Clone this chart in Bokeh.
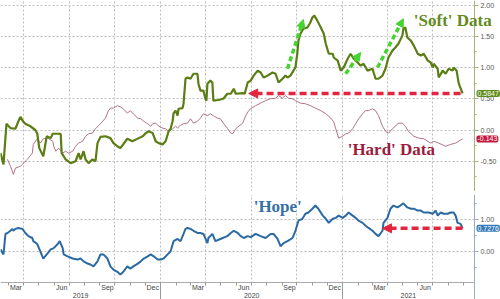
import pandas as pd
from bokeh.plotting import figure
from bokeh.models import (Range1d, LinearAxis, FixedTicker, SingleIntervalTicker,
                          NumeralTickFormatter, Grid, Label, Arrow, NormalHead,
                          BoxAnnotation)
from bokeh.layouts import column
from bokeh.embed import file_html
from bokeh.resources import INLINE
from bokeh.core.validation import silence
from bokeh.core.validation.warnings import MISSING_RENDERERS

silence(MISSING_RENDERERS, True)

# ---------------- data ----------------
soft_dates = ["2019-02-13","2019-02-19","2019-02-25","2019-03-05","2019-03-15","2019-03-21","2019-03-25","2019-03-31","2019-04-04","2019-04-14",
              "2019-04-24","2019-04-28","2019-05-02","2019-05-10","2019-05-17","2019-05-25","2019-05-29","2019-06-14","2019-06-16","2019-06-24",
              "2019-07-04","2019-07-14","2019-07-20","2019-07-24","2019-07-30","2019-08-03","2019-08-09","2019-08-17","2019-08-23","2019-08-27",
              "2019-09-02","2019-09-12","2019-09-22","2019-09-28","2019-10-06","2019-10-12","2019-10-26","2019-11-05","2019-11-18","2019-11-26",
              "2019-12-02","2019-12-08","2019-12-16","2019-12-22","2019-12-28","2020-01-05","2020-01-11","2020-01-17","2020-01-21","2020-01-25",
              "2020-01-27","2020-01-31","2020-02-04","2020-02-06","2020-02-14","2020-02-16","2020-02-20","2020-02-24","2020-03-01","2020-03-07",
              "2020-03-15","2020-03-17","2020-03-21","2020-03-27","2020-03-31","2020-04-02","2020-04-04","2020-04-10","2020-04-14","2020-04-16",
              "2020-04-26","2020-05-06","2020-05-14","2020-05-21","2020-05-27","2020-05-31","2020-06-14","2020-06-18","2020-06-24","2020-06-30",
              "2020-07-06","2020-07-14","2020-07-20","2020-07-26","2020-08-03","2020-08-13","2020-08-19","2020-08-25","2020-09-02","2020-09-08",
              "2020-09-12","2020-09-18","2020-09-24","2020-09-28","2020-10-02","2020-10-04","2020-10-08","2020-10-14","2020-10-22","2020-10-28",
              "2020-11-01","2020-11-05","2020-11-11","2020-11-18","2020-11-24","2020-11-28","2020-12-04","2020-12-12","2020-12-14","2020-12-22",
              "2020-12-28","2021-01-03","2021-01-11","2021-01-17","2021-01-23","2021-01-31","2021-02-06","2021-02-12","2021-02-20","2021-03-02",
              "2021-03-08","2021-03-14","2021-03-22","2021-03-28","2021-04-03","2021-04-11","2021-04-17","2021-04-23","2021-05-01","2021-05-03",
              "2021-05-07","2021-05-11","2021-05-18","2021-05-24","2021-06-01","2021-06-07","2021-06-13","2021-06-21","2021-06-27","2021-07-01",
              "2021-07-03","2021-07-11","2021-07-13","2021-07-21","2021-07-27","2021-08-02","2021-08-10","2021-08-12","2021-08-18","2021-08-22",
              "2021-08-24","2021-08-30"]
soft_values = [-0.37,-0.55,0.10,0.03,0.02,0.14,0.21,0.13,0.10,0.06,
               0.00,-0.06,-0.29,-0.42,-0.10,-0.13,-0.06,-0.06,-0.37,-0.47,
               -0.53,-0.50,-0.37,-0.47,-0.34,-0.47,-0.53,-0.47,-0.50,-0.21,
               -0.11,-0.10,-0.13,-0.21,-0.26,-0.29,-0.14,-0.18,-0.13,-0.10,
               -0.05,-0.02,-0.05,-0.18,-0.21,-0.23,-0.18,-0.02,0.02,0.14,
               0.27,0.31,0.23,0.34,0.35,0.42,0.82,0.84,0.82,0.90,
               0.90,0.74,0.63,0.63,0.50,0.47,0.74,0.79,0.76,0.47,
               0.48,0.50,0.58,0.58,0.66,0.58,0.59,0.58,0.76,0.79,
               0.87,0.95,0.92,0.84,0.87,0.92,0.90,0.76,0.82,0.87,
               0.84,0.87,0.95,1.00,1.24,1.43,1.54,1.62,1.64,1.72,
               1.80,1.83,1.75,1.64,1.54,1.38,1.22,1.22,1.16,1.11,
               0.95,1.00,1.14,1.22,1.14,1.08,1.03,1.06,0.95,0.98,
               0.82,0.82,0.87,0.98,1.16,1.27,1.32,1.38,1.51,1.62,
               1.64,1.48,1.43,1.35,1.22,1.19,1.22,1.11,1.08,1.00,
               1.06,0.98,0.84,0.95,0.90,0.98,0.95,1.00,0.95,0.76,
               0.71,0.5847]

hard_dates = ["2019-02-27","2019-03-05","2019-03-11","2019-03-15","2019-03-25","2019-04-08","2019-04-18","2019-04-20","2019-04-28","2019-05-04",
              "2019-05-10","2019-05-19","2019-05-29","2019-05-31","2019-06-04","2019-06-10","2019-06-18","2019-06-24","2019-06-30","2019-07-08",
              "2019-07-14","2019-07-20","2019-07-28","2019-08-03","2019-08-09","2019-08-17","2019-08-23","2019-09-02","2019-09-12","2019-09-18",
              "2019-09-22","2019-09-28","2019-10-06","2019-10-12","2019-10-18","2019-10-26","2019-11-01","2019-11-07","2019-11-16","2019-11-22",
              "2019-11-28","2019-12-06","2019-12-12","2019-12-16","2019-12-22","2019-12-28","2020-01-05","2020-01-11","2020-01-17","2020-01-25",
              "2020-01-31","2020-02-04","2020-02-10","2020-02-16","2020-02-24","2020-03-01","2020-03-07","2020-03-15","2020-03-21","2020-03-27",
              "2020-04-04","2020-04-10","2020-04-16","2020-04-24","2020-04-30","2020-05-06","2020-05-14","2020-05-21","2020-05-25","2020-05-31",
              "2020-06-06","2020-06-14","2020-06-20","2020-06-26","2020-06-30","2020-07-10","2020-07-20","2020-07-30","2020-08-09","2020-08-19",
              "2020-08-25","2020-09-02","2020-09-08","2020-09-14","2020-09-22","2020-09-28","2020-10-08","2020-10-18","2020-10-28","2020-11-07",
              "2020-11-18","2020-11-28","2020-12-08","2020-12-14","2020-12-18","2020-12-24","2021-01-01","2021-01-07","2021-01-13","2021-01-21",
              "2021-01-27","2021-02-02","2021-02-10","2021-02-16","2021-02-22","2021-03-02","2021-03-08","2021-03-14","2021-03-22","2021-03-28",
              "2021-04-03","2021-04-11","2021-04-17","2021-04-23","2021-05-01","2021-05-07","2021-05-13","2021-05-24","2021-06-03","2021-06-13",
              "2021-06-27","2021-07-03","2021-07-13","2021-07-27","2021-08-06","2021-08-16","2021-08-26","2021-08-30"]
hard_values = [-0.47,-0.58,-0.71,-0.61,-0.58,-0.47,-0.37,-0.23,-0.14,-0.21,
               -0.14,-0.13,-0.18,-0.26,-0.34,-0.29,-0.37,-0.34,-0.37,-0.34,
               -0.26,-0.21,-0.18,-0.10,-0.06,-0.05,0.02,0.10,0.19,0.31,
               0.35,0.35,0.39,0.37,0.34,0.27,0.31,0.26,0.19,0.18,
               0.14,0.10,0.06,0.10,0.11,0.06,0.03,0.02,-0.02,0.02,
               0.06,0.03,0.08,0.10,0.11,0.18,0.11,0.14,0.19,0.26,
               0.23,0.26,0.23,0.19,0.18,0.11,0.03,-0.05,-0.06,0.02,
               0.06,0.11,0.23,0.31,0.34,0.39,0.43,0.47,0.50,0.51,
               0.55,0.51,0.55,0.51,0.50,0.47,0.43,0.42,0.39,0.35,
               0.31,0.26,0.19,0.13,0.02,-0.13,-0.10,-0.06,-0.05,0.02,
               0.10,0.18,0.26,0.31,0.31,0.34,0.31,0.23,0.06,-0.02,
               -0.05,0.02,0.06,0.11,0.11,0.06,-0.02,-0.10,-0.13,-0.14,
               -0.21,-0.18,-0.21,-0.26,-0.23,-0.21,-0.16,-0.143]

hope_dates = ["2019-02-13","2019-02-19","2019-02-23","2019-02-27","2019-03-05","2019-03-09","2019-03-11","2019-03-15","2019-03-21","2019-03-29",
              "2019-04-04","2019-04-10","2019-04-18","2019-04-20","2019-04-28","2019-05-04","2019-05-10","2019-05-19","2019-05-25","2019-05-31",
              "2019-06-08","2019-06-12","2019-06-18","2019-06-20","2019-06-28","2019-07-08","2019-07-18","2019-07-24","2019-07-30","2019-08-07",
              "2019-08-13","2019-08-19","2019-08-27","2019-09-02","2019-09-08","2019-09-16","2019-09-22","2019-09-28","2019-10-06","2019-10-12",
              "2019-10-18","2019-10-26","2019-11-01","2019-11-07","2019-11-16","2019-11-22","2019-11-28","2019-12-06","2019-12-12","2019-12-18",
              "2019-12-26","2020-01-01","2020-01-07","2020-01-15","2020-01-21","2020-01-27","2020-02-04","2020-02-10","2020-02-16","2020-02-20",
              "2020-02-24","2020-03-01","2020-03-07","2020-03-15","2020-03-21","2020-03-27","2020-04-04","2020-04-06","2020-04-14","2020-04-20",
              "2020-04-30","2020-05-14","2020-05-21","2020-05-27","2020-06-04","2020-06-10","2020-06-16","2020-06-24","2020-06-30","2020-07-10",
              "2020-07-20","2020-07-30","2020-08-09","2020-08-15","2020-08-23","2020-08-29","2020-09-04","2020-09-12","2020-09-22","2020-09-28",
              "2020-10-04","2020-10-12","2020-10-18","2020-10-24","2020-11-01","2020-11-07","2020-11-13","2020-11-22","2020-11-28","2020-12-04",
              "2020-12-12","2020-12-18","2020-12-24","2021-01-01","2021-01-07","2021-01-13","2021-01-21","2021-01-27","2021-02-02","2021-02-10",
              "2021-02-16","2021-02-22","2021-03-02","2021-03-08","2021-03-14","2021-03-22","2021-03-24","2021-04-01","2021-04-07","2021-04-13",
              "2021-04-21","2021-04-27","2021-05-03","2021-05-11","2021-05-18","2021-05-24","2021-06-01","2021-06-07","2021-06-13","2021-06-23",
              "2021-07-01","2021-07-07","2021-07-11","2021-07-17","2021-07-23","2021-07-31","2021-08-06","2021-08-12","2021-08-16","2021-08-20",
              "2021-08-26","2021-08-30"]
hope_values = [0.06,-0.10,0.55,0.58,0.65,0.71,0.65,0.71,0.74,0.71,
               0.58,0.48,0.42,0.32,0.23,0.00,-0.23,-0.06,0.06,0.10,
               0.23,0.32,0.10,-0.10,-0.16,-0.23,-0.26,-0.23,-0.32,-0.39,
               -0.42,-0.48,-0.32,-0.10,-0.10,-0.23,-0.48,-0.58,-0.65,-0.74,
               -0.65,-0.48,-0.55,-0.48,-0.39,-0.32,-0.23,-0.16,-0.10,-0.16,
               -0.26,-0.26,-0.23,-0.10,0.00,0.32,0.39,0.32,0.55,0.71,
               0.74,0.71,0.65,0.58,0.58,0.55,0.26,0.42,0.55,0.32,
               0.39,0.48,0.58,0.65,0.58,0.48,0.42,0.48,0.45,0.55,
               0.48,0.42,0.55,0.55,0.39,0.16,0.26,0.32,0.42,0.65,
               0.97,1.03,1.19,1.23,1.35,1.45,1.35,1.13,1.03,0.90,
               1.03,1.06,1.13,1.06,1.13,1.23,1.13,1.06,0.97,0.90,
               0.81,0.74,0.65,0.55,0.48,0.65,0.90,1.06,1.35,1.45,
               1.39,1.45,1.52,1.39,1.35,1.35,1.29,1.29,1.23,1.23,
               1.19,1.29,1.13,1.23,1.19,1.19,1.23,1.23,1.13,0.90,
               0.87,0.7276]

quarter_dates = ["2019-04-01","2019-07-01","2019-10-01","2020-01-01","2020-04-01",
                 "2020-07-01","2020-10-01","2021-01-01","2021-04-01","2021-07-01"]
month_label_dates = ["2019-03-16","2019-06-16","2019-09-16","2019-12-16","2020-03-16",
                     "2020-06-16","2020-09-16","2020-12-16","2021-03-16","2021-06-16"]
month_labels = ["Mar","Jun","Sep","Dec","Mar","Jun","Sep","Dec","Mar","Jun"]
year_label_dates = ["2019-07-24","2020-07-02","2021-05-13"]
year_labels = ["2019","2020","2021"]
year_starts = ["2020-01-01","2021-01-01"]

X_START, X_END = "2019-02-13", "2021-09-23"

# ---------------- styling ----------------
SOFT_LINE, SOFT_TEXT, SOFT_TAG = "#5a7d14", "#648a1d", "#5e8c1a"
HARD_LINE, HARD_TEXT, HARD_TAG = "#b07488", "#9b1c3d", "#c3183c"
HOPE_LINE, HOPE_TEXT, HOPE_TAG = "#2b69a3", "#3670a8", "#3579b8"
RED, GREEN = "#e3253f", "#45d42f"
TICK_FONT = "Liberation Sans"
SERIF = "Liberation Serif"
GRID = dict(grid_line_color="#bdbdbd", grid_line_dash="2 2", grid_line_width=1)
PLOT_W, AXIS_W = 474, 26          # plot area / value-axis strip (px)
H1, H2, H_DATE = 191, 88, 17      # top panel, bottom panel, date strip (px)


def ms(s):
    return pd.Timestamp(s).value / 1e6


x0, x1 = ms(X_START), ms(X_END)
# frame spans whole width; the value axis sits at X_END and uses the last 26 px
x_range = Range1d(x0, x1 + (x1 - x0) * AXIS_W / PLOT_W)
month_starts = [d.strftime("%Y-%m-%d") for d in pd.date_range("2019-03-01", "2021-09-01", freq="MS")]


def base_fig(frame_h, y_range):
    return figure(frame_width=PLOT_W + AXIS_W, frame_height=frame_h, x_range=x_range,
                  y_range=y_range, x_axis_type=None, y_axis_type=None,
                  toolbar_location=None, output_backend="svg", min_border=0,
                  outline_line_color=None, background_fill_color="white",
                  border_fill_color="white")


def right_axis(p, interval, color, lo, hi):
    ax = LinearAxis(ticker=SingleIntervalTicker(interval=interval, num_minor_ticks=2),
                    formatter=NumeralTickFormatter(format="0.00"), fixed_location=x1,
                    bounds=(lo, hi),
                    axis_line_color=color, major_tick_line_color=color,
                    minor_tick_line_color=color, major_tick_out=4, major_tick_in=0,
                    minor_tick_out=2, minor_tick_in=0, major_label_standoff=2,
                    major_label_text_font_size="7px", major_label_text_color="#555555",
                    major_label_text_font=TICK_FONT)
    p.add_layout(Grid(dimension=1, ticker=ax.ticker, bounds=(lo, hi), **GRID))
    p.add_layout(Grid(dimension=0, ticker=FixedTicker(ticks=[ms(d) for d in quarter_dates]), **GRID))
    # keep the axis strip right of the plot area clean of grid lines
    p.add_layout(BoxAnnotation(left=x1, fill_color="white", fill_alpha=1,
                               line_color=None, level="glyph"))
    p.add_layout(ax, "right")


def tag(p, y, text, color):
    p.add_layout(Label(x=x1, x_offset=2, y=y, text=text, text_font=TICK_FONT,
                       text_font_size="7px", text_color="white", text_baseline="middle",
                       text_align="left", background_fill_color=color, padding=1,
                       border_radius=2, level="overlay"))


# ---------------- top panel ----------------
Y1_LO, Y1_HI = -0.984, 2.072
p1 = base_fig(H1, Range1d(Y1_LO, Y1_HI))
right_axis(p1, 0.5, "#a9b27a", Y1_LO, Y1_HI)
p1.line(pd.to_datetime(hard_dates), hard_values, line_color=HARD_LINE, line_width=1)
p1.line(pd.to_datetime(soft_dates), soft_values, line_color=SOFT_LINE, line_width=2.2)

p1.add_layout(Arrow(x_start=ms("2021-08-26"), y_start=soft_values[-1],
                    x_end=ms("2020-06-26"), y_end=soft_values[-1],
                    line_color=RED, line_width=3.5, line_dash="7 4",
                    end=NormalHead(size=9, fill_color=RED, line_color=RED)))
for (xs, ys, xe, ye) in [("2020-09-12", 0.98, "2020-10-14", 1.77),
                         ("2021-01-07", 0.90, "2021-02-06", 1.24),
                         ("2021-03-12", 1.00, "2021-05-03", 1.78)]:
    p1.add_layout(Arrow(x_start=ms(xs), y_start=ys, x_end=ms(xe), y_end=ye,
                        line_color=GREEN, line_width=3.5, line_dash="5 3",
                        end=NormalHead(size=8, fill_color=GREEN, line_color=GREEN)))

p1.add_layout(Label(x=ms("2021-05-24"), y=1.60, text="'Soft' Data", text_font=SERIF,
                    text_font_style="bold", text_font_size="17px", text_color=SOFT_TEXT))
p1.add_layout(Label(x=ms("2021-01-11"), y=-0.47, text="'Hard' Data", text_font=SERIF,
                    text_font_style="bold", text_font_size="17px", text_color=HARD_TEXT))
tag(p1, soft_values[-1], str(soft_values[-1]), SOFT_TAG)
tag(p1, hard_values[-1], str(hard_values[-1]), HARD_TAG)

# ---------------- separator ----------------
sep = figure(width=500, height=3, x_axis_type=None, y_axis_type=None,
             toolbar_location=None, output_backend="svg", min_border=0,
             background_fill_color="#2e2e2e", border_fill_color="#2e2e2e",
             outline_line_color=None)

# ---------------- bottom panel (frame includes the date strip) ----------------
Y2_AXIS, Y2_HI = -0.99, 1.80
Y2_LO = Y2_AXIS - (Y2_HI - Y2_AXIS) * H_DATE / H2
p2 = base_fig(H2 + H_DATE, Range1d(Y2_LO, Y2_HI))
right_axis(p2, 1.0, "#9aabbd", Y2_AXIS, Y2_HI)
# value-axis line continues down through the date strip
p2.add_layout(LinearAxis(ticker=FixedTicker(ticks=[]), fixed_location=x1,
                         bounds=(Y2_LO, Y2_AXIS), axis_line_color="#9aabbd",
                         major_tick_out=0, major_tick_in=0), "right")
p2.add_layout(BoxAnnotation(top=Y2_AXIS, right=x1, fill_color="white", fill_alpha=1,
                            line_color=None, level="glyph"))
p2.line(pd.to_datetime(hope_dates), hope_values, line_color=HOPE_LINE, line_width=2)
p2.add_layout(Arrow(x_start=ms("2021-08-30"), y_start=hope_values[-1],
                    x_end=ms("2021-03-22"), y_end=hope_values[-1],
                    line_color=RED, line_width=3.5, line_dash="7 4",
                    end=NormalHead(size=9, fill_color=RED, line_color=RED)))
p2.add_layout(Label(x=ms("2020-07-06"), y=1.13, text="'Hope'", text_font=SERIF,
                    text_font_style="bold", text_font_size="17px", text_color=HOPE_TEXT))
tag(p2, hope_values[-1], str(hope_values[-1]), HOPE_TAG)

# date axis: month ticks + year separators, drawn at the bottom of the plot area
month_axis = LinearAxis(
    ticker=FixedTicker(ticks=[], minor_ticks=[ms(d) for d in month_starts]),
    fixed_location=Y2_AXIS, bounds=(x0, x1), axis_line_color="#aaaaaa",
    major_tick_out=0, major_tick_in=0, minor_tick_out=3, minor_tick_in=0,
    minor_tick_line_color="#999999")
year_axis = LinearAxis(
    ticker=FixedTicker(ticks=[], minor_ticks=[ms(d) for d in year_starts]),
    fixed_location=Y2_AXIS, axis_line_color=None, major_tick_out=0, major_tick_in=0,
    minor_tick_out=H_DATE, minor_tick_in=0, minor_tick_line_color="#999999")
p2.add_layout(month_axis, "below")
p2.add_layout(year_axis, "below")

for d, lab in zip(month_label_dates, month_labels):
    p2.add_layout(Label(x=ms(d), y=Y2_AXIS, y_offset=-5, text=lab, text_font=TICK_FONT,
                        text_font_size="7px", text_color="#444444",
                        text_align="center", text_baseline="middle"))
for d, lab in zip(year_label_dates, year_labels):
    p2.add_layout(Label(x=ms(d), y=Y2_AXIS, y_offset=-13, text=lab, text_font=TICK_FONT,
                        text_font_size="7px", text_color="#444444",
                        text_align="center", text_baseline="middle"))

layout = column(p1, sep, p2, spacing=0)
open("out.html", "w").write(file_html(layout, INLINE))
